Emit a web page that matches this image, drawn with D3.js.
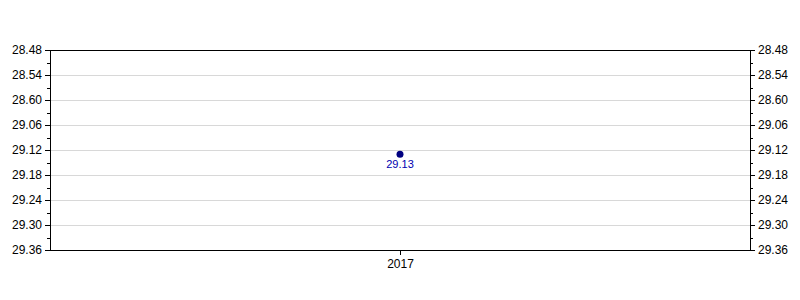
<!DOCTYPE html>
<html><head><meta charset="utf-8">
<script src="https://cdn.jsdelivr.net/npm/d3@7"></script>
<style>body{margin:0;background:#fff}svg{display:block}</style>
</head><body>
<script>
const categories = ["2017"];
const values = [29.13];           // minutes.seconds
const pointLabels = ["29.13"];
const tickValues = [28.48, 28.54, 28.60, 29.06, 29.12, 29.18, 29.24, 29.30, 29.36];
const tickLabels = ["28.48", "28.54", "28.60", "29.06", "29.12", "29.18", "29.24", "29.30", "29.36"];

const toSec = v => { const m = Math.floor(v); return m * 60 + Math.round((v - m) * 100); };

const W = 800, H = 300, m = {l: 50, r: 50, t: 50, b: 50};
const svg = d3.select("body").append("svg").attr("width", W).attr("height", H);
const font = "Liberation Sans, Arial, sans-serif";

const tickSecs = tickValues.map(toSec);
const y = d3.scaleLinear().domain([tickSecs[0], tickSecs[tickSecs.length - 1]]).range([m.t, H - m.b]);
const x = d3.scalePoint().domain(categories).range([m.l, W - m.r]).padding(0.5);

// gridlines
svg.append("g").selectAll("line").data(tickSecs.slice(1, -1)).join("line")
  .attr("x1", m.l).attr("x2", W - m.r)
  .attr("y1", d => Math.round(y(d)) + 0.5).attr("y2", d => Math.round(y(d)) + 0.5)
  .attr("stroke", "#d8d8d8").attr("stroke-width", 1);

// minor ticks
const minor = d3.pairs(tickSecs).map(([a, b]) => (a + b) / 2);

function yAxis(side) {
  const isL = side === "left";
  const g = svg.append("g").attr("transform", `translate(${isL ? m.l : W - m.r},0)`);
  const ax = (isL ? d3.axisLeft(y) : d3.axisRight(y)).tickValues(tickSecs)
    .tickFormat((d, i) => tickLabels[i]).tickSize(5).tickPadding(3).offset(0.5);
  g.call(ax);
  g.select(".domain").remove();
  g.selectAll("line").attr("stroke", "#000");
  g.selectAll("text").attr("font-family", font).attr("font-size", 12).attr("fill", "#000");
  g.append("g").selectAll("line").data(minor).join("line")
    .attr("x1", 0).attr("x2", isL ? -3 : 3)
    .attr("y1", d => Math.round(y(d)) + 0.5).attr("y2", d => Math.round(y(d)) + 0.5)
    .attr("stroke", "#000");
}
yAxis("left");
yAxis("right");

// x axis
const gx = svg.append("g").attr("transform", `translate(0,${H - m.b})`);
gx.call(d3.axisBottom(x).tickSize(5).tickPadding(4).offset(0.5));
gx.select(".domain").remove();
gx.selectAll("line").attr("stroke", "#000");
gx.selectAll("text").attr("font-family", font).attr("font-size", 12).attr("fill", "#000");

// frame
svg.append("rect").attr("x", m.l + 0.5).attr("y", m.t + 0.5)
  .attr("width", W - m.l - m.r).attr("height", H - m.t - m.b)
  .attr("fill", "none").attr("stroke", "#000");

// points
const data = categories.map((c, i) => ({c, v: toSec(values[i]), label: pointLabels[i]}));
svg.append("g").selectAll("circle").data(data).join("circle")
  .attr("cx", d => x(d.c)).attr("cy", d => y(d.v)).attr("r", 3.5)
  .attr("fill", "#000080");
svg.append("g").selectAll("text").data(data).join("text")
  .attr("x", d => x(d.c)).attr("y", d => y(d.v) + 14)
  .attr("text-anchor", "middle").attr("font-family", font).attr("font-size", 11)
  .attr("fill", "#0000b0").text(d => d.label);
</script>
</body></html>
